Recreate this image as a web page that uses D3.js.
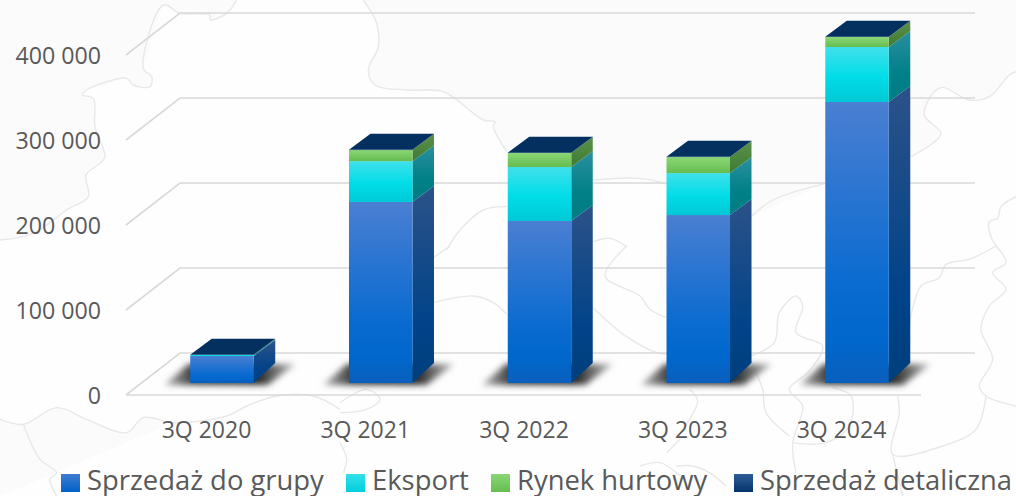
<!DOCTYPE html>
<html><head><meta charset="utf-8">
<style>html,body{margin:0;padding:0;background:#fff;overflow:hidden}svg{display:block}text{font-family:"Open Sans",sans-serif;fill:#595959}</style>
<script src="https://cdn.jsdelivr.net/npm/d3@7"></script></head>
<body><svg id="c" width="1016" height="496"></svg>
<script>
const categories=["3Q 2020","3Q 2021","3Q 2022","3Q 2023","3Q 2024"];
const seriesNames=["Sprzedaż do grupy","Eksport","Rynek hurtowy","Sprzedaż detaliczna"];
const sprzedazDoGrupy=[31800,213000,190600,197600,330600];
const eksport=[1200,48000,63500,49400,64700];
const rynekHurtowy=[100,13000,16500,18800,11800];
const sprzedazDetaliczna=[100,300,300,300,300];
const yTicks=[0,100000,200000,300000,400000];

// decorative faint map behind the chart, traced in 3x crop units [originX, originY, points]
const mapLines=[
[0,0,[[0,720],[100,700],[200,630],[265,590],[258,525],[300,490],[315,470],[285,380],[280,295],[247,285],[260,270],[380,235],[400,255],[450,260],[455,230],[430,205],[490,15],[540,40],[630,45],[630,60],[680,40],[710,0]]],
[340,0,[[70,0],[110,70],[115,140],[85,210],[105,255],[200,270],[310,275],[430,360],[465,365],[460,380],[500,455]]],
[340,0,[[760,540],[900,535],[980,552]]],
[676,0,[[225,650],[290,600],[450,550]]],
[676,0,[[705,470],[770,430],[795,400],[745,345],[770,280],[800,262],[880,300],[940,290],[1000,225],[1020,215]]],
[340,0,[[320,750],[360,690],[430,630],[500,620]]],
[340,0,[[760,725],[810,715],[860,740]]],
[340,246,[[280,35],[330,0]]],
[340,246,[[280,170],[400,150],[460,170],[500,205]]],
[340,246,[[760,185],[850,265],[950,320],[980,325]]],
[340,246,[[860,0],[795,90],[900,150],[930,190],[980,215]]],
[340,246,[[0,470],[80,430],[120,460],[80,490],[0,500]]],
[340,246,[[0,590],[20,640],[10,680]]],
[340,246,[[900,660],[960,650],[1020,690]]],
[340,246,[[980,620],[1020,580]]],
[0,246,[[0,520],[70,535],[170,485],[260,520],[380,560],[430,515],[520,530],[680,510],[740,480],[830,450],[940,450],[1020,490]]],
[0,246,[[70,535],[120,640],[170,680],[150,700],[170,750]]],
[676,246,[[960,0],[990,50],[950,80],[990,130],[940,180],[915,250],[950,340],[910,420],[930,450],[1020,480]]],
[676,246,[[930,450],[900,550],[800,600],[650,625],[670,500],[665,450]]],
[676,246,[[650,625],[680,750]]],
[676,246,[[700,235],[735,120],[790,95],[810,55],[880,40],[960,0]]],
[676,246,[[225,330],[295,290],[310,200],[360,150],[380,180],[360,260],[440,300],[400,375],[340,430],[380,480],[350,590],[360,680]]],
[676,246,[[240,380],[260,430],[270,500],[340,570]]],
[676,246,[[350,590],[450,590],[520,540],[525,450],[470,425]]],
[676,246,[[40,430],[65,465],[20,550]]],
[676,246,[[0,660],[50,660],[100,680],[150,720]]],
[676,0,[[1020,590],[975,620],[965,655],[940,665],[945,710],[970,750]]]
];
const landAreas=[
[[0,0],[0,240],[33,233],[67,210],[88,197],[86,175],[100,163],[105,157],[95,127],[93,98],[82,95],[87,90],[127,78],[133,85],[150,87],[152,77],[143,68],[163,5],[180,13],[210,15],[210,20],[227,13],[237,0]],
[[363,0],[377,23],[378,47],[368,70],[375,85],[407,90],[443,92],[483,120],[495,122],[493,127],[507,152],[593,180],[640,178],[667,184],[751,217],[826,183],[911,157],[933,143],[941,133],[924,115],[933,93],[943,87],[969,100],[989,97],[1009,75],[1016,72],[1016,0]],
[[0,420],[23,424],[57,408],[87,420],[127,433],[143,418],[173,423],[0,496]]
];

const W=1016,H=496;
const svg=d3.select("#c");
const defs=svg.append("defs");
function grad(id,stops){const g=defs.append("linearGradient").attr("id",id).attr("x1",0).attr("y1",0).attr("x2",0).attr("y2",1);
  stops.forEach(([o,c])=>g.append("stop").attr("offset",o).attr("stop-color",c));}
const frontStops=[
 [[0,"#4a7fd2"],[.65,"#0a6bd0"],[.85,"#0067cc"],[1,"#0a5fbc"]],
 [[0,"#40e0ea"],[.55,"#00dde8"],[1,"#00c8d6"]],
 [[0,"#8ad775"],[1,"#66bc50"]],
 [[0,"#2a5a96"],[1,"#03305f"]]];
const sideStops=[
 [[0,"#2c5288"],[.7,"#004389"],[1,"#003f7c"]],
 [[0,"#2b8f9f"],[.6,"#008088"],[1,"#007c84"]],
 [[0,"#5a9148"],[1,"#3f7a34"]],
 [[0,"#03305f"],[1,"#03305f"]]];
frontStops.forEach((s,i)=>grad("f"+i,s));
sideStops.forEach((s,i)=>grad("s"+i,s));
const shadowGrad=defs.append("linearGradient").attr("id","shade").attr("x1",0).attr("y1",0).attr("x2",1).attr("y2",0);
[[0,"#bdbdbd"],[.22,"#3a3a3a"],[.72,"#2a2a2a"],[1,"#c4c4c4"]].forEach(([o,c])=>shadowGrad.append("stop").attr("offset",o).attr("stop-color",c));
defs.append("filter").attr("id","blur").attr("filterUnits","userSpaceOnUse").attr("x",0).attr("y",300).attr("width",W).attr("height",150)
  .append("feGaussianBlur").attr("stdDeviation",3.4);
const legG=[[0,"#3f7cd0"],[1,"#0062c6"]],legC=[[0,"#35e0ea"],[1,"#00cfdc"]],legR=[[0,"#8ad775"],[1,"#66bc50"]],legD=[[0,"#2e5c98"],[1,"#03336a"]];
[legG,legC,legR,legD].forEach((s,i)=>grad("l"+i,s));

// background
svg.append("rect").attr("width",W).attr("height",H).attr("fill","#fefefe");
svg.append("g").selectAll("path").data(landAreas).join("path")
  .attr("d",d=>d3.line()(d)+"Z").attr("fill","#fbfbfb");
const mapLine=d3.line().curve(d3.curveCatmullRom.alpha(.5));
svg.append("g").selectAll("path").data(mapLines).join("path")
  .attr("d",([ox,oy,p])=>mapLine(p.map(([x,y])=>[ox+x/3,oy+y/3])))
  .attr("fill","none").attr("stroke","#e8e8e8").attr("stroke-width",1.4);

// scales
const x=d3.scaleBand().domain(categories).range([142.6,936.4]).paddingInner(.6).paddingOuter(.3);
const yBar=d3.scaleLinear().domain([0,400000]).range([383,43]);
const yFront=d3.scaleLinear().domain([0,400000]).range([395,55]);
const yBack=d3.scaleLinear().domain([0,400000]).range([353,13]);
const DX=21.5,DY=16,DYB=20;
const wallL=126,wallB=180,wallR=975,floorR=921;

// grid
const gridC="#d9d9d9";
const grid=svg.append("g").attr("fill","none").attr("stroke",gridC).attr("stroke-width",1.6);
grid.selectAll("path").data(yTicks).join("path")
  .attr("d",v=>d3.line()([[wallL,yFront(v)],[wallB,yBack(v)],[wallR,yBack(v)]]));
grid.append("line").attr("x1",wallL).attr("x2",floorR).attr("y1",yFront(0)).attr("y2",yFront(0));

// axes
const fmt=d3.formatLocale({decimal:",",thousands:" ",grouping:[3],currency:["",""]}).format(",d");
const yAxis=svg.append("g").attr("transform","translate(101,1)")
  .call(d3.axisLeft(yFront).tickValues(yTicks).tickFormat(fmt).tickSize(0).tickPadding(0));
yAxis.select(".domain").remove();
yAxis.selectAll("text").style("font-family",'"Open Sans",sans-serif').style("font-size","23.2px").attr("fill","#595959");
const xAxis=svg.append("g").attr("transform","translate(-15.5,421.5)")
  .call(d3.axisBottom(x).tickSize(0).tickPadding(0));
xAxis.select(".domain").remove();
xAxis.selectAll("text").style("font-family",'"Open Sans",sans-serif').style("font-size","23px").attr("fill","#595959");

// shadows
const poly=d3.line();
svg.append("g").attr("filter","url(#blur)").selectAll("path").data(categories).join("path")
  .attr("d",c=>{const a=x(c),b=a+x.bandwidth(),y0=yBar(0);
    return poly([[a-26,y0+2],[b+14,y0+2],[b+42,y0-19],[a-2,y0-19]])+"Z";})
  .attr("fill","url(#shade)");

// stacked bars
const table=categories.map((c,i)=>({c,[seriesNames[0]]:sprzedazDoGrupy[i],[seriesNames[1]]:eksport[i],[seriesNames[2]]:rynekHurtowy[i],[seriesNames[3]]:sprzedazDetaliczna[i]}));
const stacked=d3.stack().keys(seriesNames)(table);
const bars=svg.append("g");
stacked.forEach((s,i)=>{
  const g=bars.append("g");
  g.selectAll("path.side").data(s).join("path").attr("class","side")
    .attr("fill",`url(#s${i})`)
    .attr("d",d=>{const b=x(d.data.c)+x.bandwidth(),y0=yBar(d[0]),y1=yBar(d[1]);
      const drop=d[0]===0?DYB:DY;
      return poly([[b,y0],[b,y1],[b+DX,y1-DY],[b+DX,y0-drop]])+"Z";});
  g.selectAll("rect").data(s).join("rect")
    .attr("fill",`url(#f${i})`)
    .attr("x",d=>x(d.data.c)).attr("width",x.bandwidth())
    .attr("y",d=>yBar(d[1])).attr("height",d=>yBar(d[0])-yBar(d[1]));
});
// lid
const topS=stacked[stacked.length-1];
bars.append("g").selectAll("path").data(topS).join("path")
  .attr("fill","#03305f")
  .attr("d",d=>{const a=x(d.data.c),b=a+x.bandwidth(),t=yBar(d[1]);
    return poly([[a,t],[b,t],[b+DX,t-DY],[a+DX,t-DY]])+"Z";});

// legend
const legendX=[61,346,491,734];
const leg=svg.append("g").selectAll("g").data(seriesNames).join("g")
  .attr("transform",(d,i)=>`translate(${legendX[i]},474)`);
leg.append("rect").attr("width",19).attr("height",18).attr("fill",(d,i)=>`url(#l${i})`);
leg.append("text").attr("x",26).attr("y",15.5).style("font-size","27.4px").text(d=>d);
</script></body></html>
